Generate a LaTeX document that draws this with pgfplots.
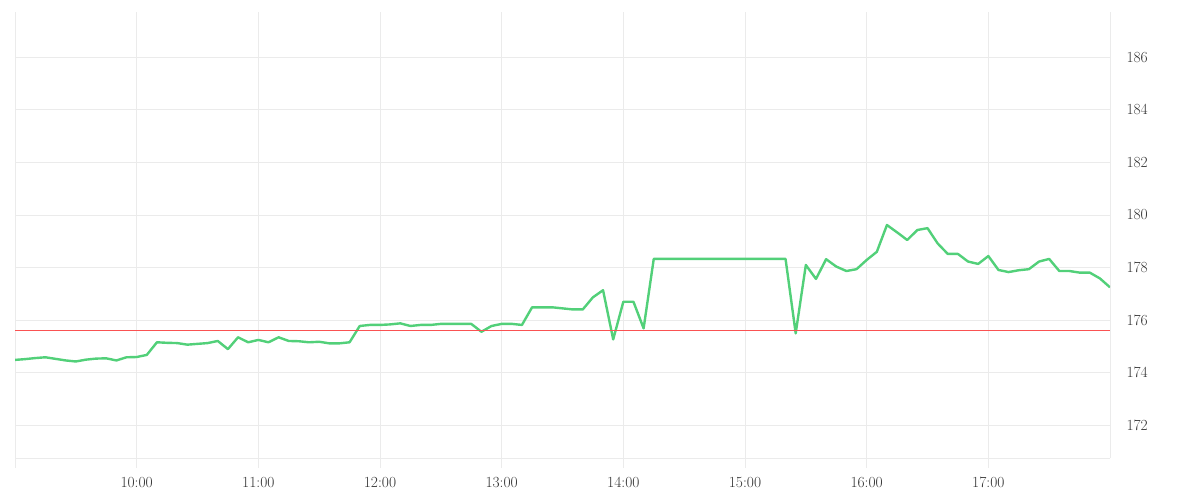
\documentclass[border=0pt]{standalone}
\usepackage{pgfplots}
\pgfplotsset{compat=1.18}
\usepackage{pgfplotstable}

\definecolor{priceline}{RGB}{82,208,121}
\definecolor{refline}{RGB}{250,82,82}
\definecolor{gridgray}{RGB}{235,235,235}
\definecolor{labelgray}{RGB}{51,51,51}

% minutes after 9:00, price
\pgfplotstableread{
t v
0 174.49
5 174.52
10 174.56
15 174.59
20 174.53
25 174.47
30 174.43
35 174.50
40 174.54
45 174.55
50 174.47
55 174.59
60 174.60
65 174.68
70 175.16
75 175.14
80 175.13
85 175.07
90 175.10
95 175.13
100 175.21
105 174.90
110 175.35
115 175.16
120 175.25
125 175.16
130 175.35
135 175.21
140 175.20
145 175.16
150 175.18
155 175.12
160 175.12
165 175.16
170 175.78
175 175.82
180 175.82
185 175.84
190 175.88
195 175.78
200 175.82
205 175.82
210 175.86
215 175.86
220 175.86
225 175.86
230 175.56
235 175.78
240 175.86
245 175.86
250 175.82
255 176.49
260 176.49
265 176.49
270 176.45
275 176.41
280 176.41
285 176.87
290 177.14
295 175.27
300 176.70
305 176.70
310 175.69
315 178.33
320 178.33
325 178.33
330 178.33
335 178.33
340 178.33
345 178.33
350 178.33
355 178.33
360 178.33
365 178.33
370 178.33
375 178.33
380 178.33
385 175.50
390 178.10
395 177.57
400 178.32
405 178.04
410 177.87
415 177.94
420 178.29
425 178.60
430 179.62
435 179.34
440 179.05
445 179.43
450 179.50
455 178.92
460 178.52
465 178.52
470 178.23
475 178.14
480 178.44
485 177.91
490 177.83
495 177.90
500 177.94
505 178.23
510 178.33
515 177.87
520 177.87
525 177.81
530 177.81
535 177.59
540 177.25
}\pricedata

\begin{document}
\begin{tikzpicture}
\begin{axis}[
  name=ax,
  scale only axis,
  width=1095bp, height=446bp,
  xmin=0, xmax=540,
  ymin=170.76, ymax=187.72,
  axis x line*=bottom,
  axis y line*=right,
  axis line style={gridgray, line width=1bp},
  xtick={0,60,...,480},
  xticklabels={,10:00,11:00,12:00,13:00,14:00,15:00,16:00,17:00},
  ytick={172,174,...,186},
  grid=major,
  major grid style={gridgray, line width=1bp},
  tick align=outside,
  major tick length=10bp,
  xtick style={gridgray, line width=1bp},
  ytick style={draw=none},
  tick label style={font=\fontsize{15.5}{18}\selectfont, text=labelgray},
  yticklabel style={xshift=3bp},
  xticklabel style={yshift=-6bp},
  /pgf/number format/assume math mode=true,
]
\addplot[priceline, line width=2.4bp, line join=round, no marks] table[x=t, y=v] {\pricedata};
\addplot[refline, line width=0.9bp, no marks] coordinates {(0,175.62) (540,175.62)};
\end{axis}
\pgfresetboundingbox
\path (ax.south west) ++(-15bp,-42bp) rectangle ++(1200bp,500bp);
\end{tikzpicture}
\end{document}
